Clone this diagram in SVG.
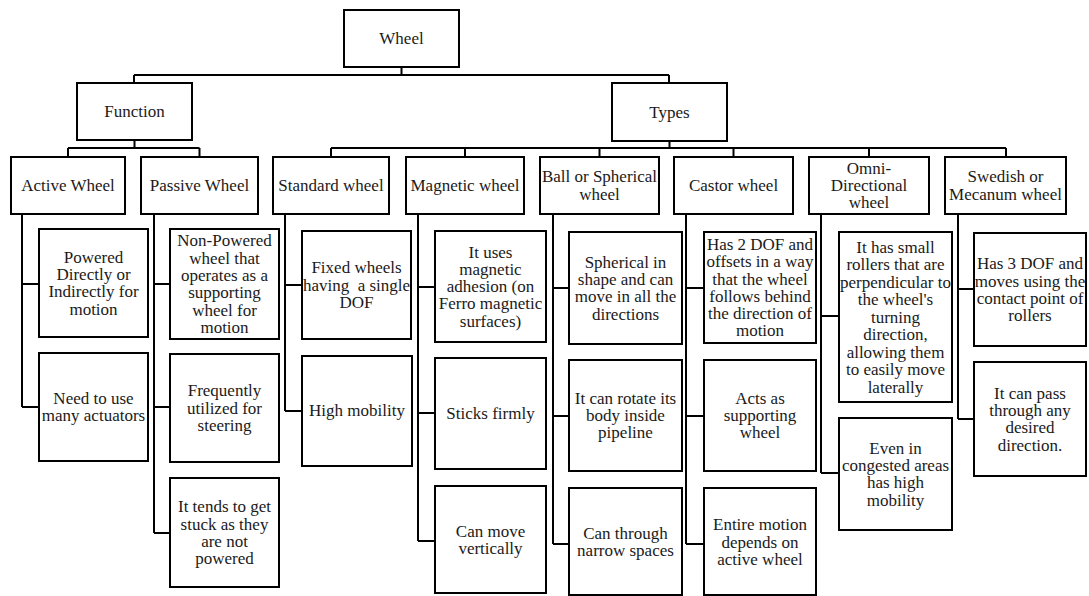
<svg xmlns="http://www.w3.org/2000/svg" width="1089" height="596" viewBox="0 0 1089 596">
<defs>
<rect id="unused" width="0" height="0"/>
</defs>
<rect x="0" y="0" width="1089" height="596" fill="#fff"/>
<g id="connectors" fill="none" stroke="#000" stroke-width="2">
<path d="M401.5 67V75M134 75H669M134 75V83M669 75V83"/>
<path d="M134.5 140V148M68 148H199.5M68 148V157M199.5 148V157"/>
<path d="M669.5 141V148M331 148H1006M331 148V157M465 148V157M599.5 148V157M733.5 148V157M869 148V157M1006 148V157"/>
<path d="M22 214V407M22 284H39M22 407H39"/>
<path d="M154 214V533M154 284H170M154 407H170M154 533H170"/>
<path d="M285 214V411M285 285H302M285 411H302"/>
<path d="M418 214V541M418 287H435M418 413H435M418 541H435"/>
<path d="M553 214V544M553 288H569M553 416H569M553 544H569"/>
<path d="M686 214V544M686 288H704M686 416H704M686 544H704"/>
<path d="M821 214V473M821 316H839M821 473H839"/>
<path d="M958 214V419M958 289H974M958 419H974"/>
</g>
<g id="nodes" fill="#fff" stroke="#000" stroke-width="2">
<g id="wheel"><rect x="344" y="10" width="115" height="57"/><text stroke="none" fill="#1a1a1a" font-family="Liberation Serif" font-size="17" text-anchor="middle" x="401.5" y="44">Wheel</text></g>
<g id="function"><rect x="77" y="83" width="115" height="57"/><text stroke="none" fill="#1a1a1a" font-family="Liberation Serif" font-size="17" text-anchor="middle" x="134.5" y="117">Function</text></g>
<g id="types"><rect x="612" y="83" width="115" height="58"/><text stroke="none" fill="#1a1a1a" font-family="Liberation Serif" font-size="17" text-anchor="middle" x="669.5" y="117.5">Types</text></g>

<g id="active"><rect x="11" y="157" width="114" height="57"/><text stroke="none" fill="#1a1a1a" font-family="Liberation Serif" font-size="17" text-anchor="middle" x="68" y="191">Active Wheel</text></g>
<g id="passive"><rect x="141" y="157" width="117" height="57"/><text stroke="none" fill="#1a1a1a" font-family="Liberation Serif" font-size="17" text-anchor="middle" x="199.5" y="191">Passive Wheel</text></g>
<g id="standard"><rect x="273" y="157" width="116" height="57"/><text stroke="none" fill="#1a1a1a" font-family="Liberation Serif" font-size="17" text-anchor="middle" x="331" y="191">Standard wheel</text></g>
<g id="magnetic"><rect x="406" y="157" width="118" height="57"/><text stroke="none" fill="#1a1a1a" font-family="Liberation Serif" font-size="17" text-anchor="middle" x="465" y="191">Magnetic wheel</text></g>
<g id="ball"><rect x="540" y="157" width="119" height="57"/><text stroke="none" fill="#1a1a1a" font-family="Liberation Serif" font-size="17" text-anchor="middle" x="599.5" y="182.4">Ball or Spherical<tspan x="599.5" dy="17.3">wheel</tspan></text></g>
<g id="castor"><rect x="674" y="157" width="119" height="57"/><text stroke="none" fill="#1a1a1a" font-family="Liberation Serif" font-size="17" text-anchor="middle" x="733.5" y="191">Castor wheel</text></g>
<g id="omni"><rect x="809" y="157" width="120" height="57"/><text stroke="none" fill="#1a1a1a" font-family="Liberation Serif" font-size="17" text-anchor="middle" x="869" y="173.7">Omni-<tspan x="869" dy="17.3">Directional</tspan><tspan x="869" dy="17.3">wheel</tspan></text></g>
<g id="swedish"><rect x="945" y="157" width="121" height="57"/><text stroke="none" fill="#1a1a1a" font-family="Liberation Serif" font-size="17" text-anchor="middle" x="1005.5" y="182.4">Swedish or<tspan x="1005.5" dy="17.3">Mecanum wheel</tspan></text></g>

<g id="powered"><rect x="39" y="229" width="109" height="108"/><text stroke="none" fill="#1a1a1a" font-family="Liberation Serif" font-size="17" text-anchor="middle" x="93.5" y="262.7">Powered<tspan x="93.5" dy="17.3">Directly or</tspan><tspan x="93.5" dy="17.3">Indirectly for</tspan><tspan x="93.5" dy="17.3">motion</tspan></text></g>
<g id="actuators"><rect x="39" y="353" width="109" height="108"/><text stroke="none" fill="#1a1a1a" font-family="Liberation Serif" font-size="17" text-anchor="middle" x="93.5" y="404">Need to use<tspan x="93.5" dy="17.3">many actuators</tspan></text></g>

<g id="nonpowered"><rect x="170" y="229" width="109" height="110"/><text stroke="none" fill="#1a1a1a" font-family="Liberation Serif" font-size="17" text-anchor="middle" x="224.5" y="246.4">Non-Powered<tspan x="224.5" dy="17.3">wheel that</tspan><tspan x="224.5" dy="17.3">operates as a</tspan><tspan x="224.5" dy="17.3">supporting</tspan><tspan x="224.5" dy="17.3">wheel for</tspan><tspan x="224.5" dy="17.3">motion</tspan></text></g>
<g id="steering"><rect x="170" y="354" width="109" height="108"/><text stroke="none" fill="#1a1a1a" font-family="Liberation Serif" font-size="17" text-anchor="middle" x="224.5" y="396.3">Frequently<tspan x="224.5" dy="17.3">utilized for</tspan><tspan x="224.5" dy="17.3">steering</tspan></text></g>
<g id="stuck"><rect x="170" y="478" width="109" height="109"/><text stroke="none" fill="#1a1a1a" font-family="Liberation Serif" font-size="17" text-anchor="middle" x="224.5" y="512.2">It tends to get<tspan x="224.5" dy="17.3">stuck as they</tspan><tspan x="224.5" dy="17.3">are not</tspan><tspan x="224.5" dy="17.3">powered</tspan></text></g>

<g id="fixed"><rect x="302" y="231" width="109" height="108"/><text stroke="none" fill="#1a1a1a" font-family="Liberation Serif" font-size="17" text-anchor="middle" x="356.5" y="273.3">Fixed wheels<tspan x="356.5" dy="17.3" xml:space="preserve">having  a single</tspan><tspan x="356.5" dy="17.3">DOF</tspan></text></g>
<g id="highmobility"><rect x="302" y="356" width="110" height="110"/><text stroke="none" fill="#1a1a1a" font-family="Liberation Serif" font-size="17" text-anchor="middle" x="357" y="416">High mobility</text></g>

<g id="adhesion"><rect x="435" y="231" width="111" height="111"/><text stroke="none" fill="#1a1a1a" font-family="Liberation Serif" font-size="17" text-anchor="middle" x="490.5" y="257.5">It uses<tspan x="490.5" dy="17.3">magnetic</tspan><tspan x="490.5" dy="17.3">adhesion (on</tspan><tspan x="490.5" dy="17.3">Ferro magnetic</tspan><tspan x="490.5" dy="17.3">surfaces)</tspan></text></g>
<g id="sticks"><rect x="435" y="358" width="111" height="111"/><text stroke="none" fill="#1a1a1a" font-family="Liberation Serif" font-size="17" text-anchor="middle" x="490.5" y="419">Sticks firmly</text></g>
<g id="vertically"><rect x="435" y="486" width="111" height="107"/><text stroke="none" fill="#1a1a1a" font-family="Liberation Serif" font-size="17" text-anchor="middle" x="490.5" y="536.5">Can move<tspan x="490.5" dy="17.3">vertically</tspan></text></g>

<g id="spherical"><rect x="569" y="232" width="113" height="112"/><text stroke="none" fill="#1a1a1a" font-family="Liberation Serif" font-size="17" text-anchor="middle" x="625.5" y="267.7">Spherical in<tspan x="625.5" dy="17.3">shape and can</tspan><tspan x="625.5" dy="17.3">move in all the</tspan><tspan x="625.5" dy="17.3">directions</tspan></text></g>
<g id="rotate"><rect x="569" y="360" width="113" height="111"/><text stroke="none" fill="#1a1a1a" font-family="Liberation Serif" font-size="17" text-anchor="middle" x="625.5" y="403.8">It can rotate its<tspan x="625.5" dy="17.3">body inside</tspan><tspan x="625.5" dy="17.3">pipeline</tspan></text></g>
<g id="narrow"><rect x="569" y="488" width="113" height="107"/><text stroke="none" fill="#1a1a1a" font-family="Liberation Serif" font-size="17" text-anchor="middle" x="625.5" y="539">Can through<tspan x="625.5" dy="17.3">narrow spaces</tspan></text></g>

<g id="castor-dof"><rect x="704" y="232" width="112" height="111"/><text stroke="none" fill="#1a1a1a" font-family="Liberation Serif" font-size="17" text-anchor="middle" x="760" y="249.9">Has 2 DOF and<tspan x="760" dy="17.3">offsets in a way</tspan><tspan x="760" dy="17.3">that the wheel</tspan><tspan x="760" dy="17.3">follows behind</tspan><tspan x="760" dy="17.3">the direction of</tspan><tspan x="760" dy="17.3">motion</tspan></text></g>
<g id="supporting"><rect x="704" y="360" width="112" height="111"/><text stroke="none" fill="#1a1a1a" font-family="Liberation Serif" font-size="17" text-anchor="middle" x="760" y="403.8">Acts as<tspan x="760" dy="17.3">supporting</tspan><tspan x="760" dy="17.3">wheel</tspan></text></g>
<g id="entire"><rect x="704" y="488" width="112" height="107"/><text stroke="none" fill="#1a1a1a" font-family="Liberation Serif" font-size="17" text-anchor="middle" x="760" y="530.3">Entire motion<tspan x="760" dy="17.3">depends on</tspan><tspan x="760" dy="17.3">active wheel</tspan></text></g>

<g id="rollers"><rect x="839" y="232" width="113" height="170"/><text stroke="none" fill="#1a1a1a" font-family="Liberation Serif" font-size="17" text-anchor="middle" x="895.5" y="252.6">It has small<tspan x="895.5" dy="17.5">rollers that are</tspan><tspan x="895.5" dy="17.5">perpendicular to</tspan><tspan x="895.5" dy="17.5">the wheel's</tspan><tspan x="895.5" dy="17.5">turning</tspan><tspan x="895.5" dy="17.5">direction,</tspan><tspan x="895.5" dy="17.5">allowing them</tspan><tspan x="895.5" dy="17.5">to easily move</tspan><tspan x="895.5" dy="17.5">laterally</tspan></text></g>
<g id="congested"><rect x="839" y="418" width="113" height="112"/><text stroke="none" fill="#1a1a1a" font-family="Liberation Serif" font-size="17" text-anchor="middle" x="895.5" y="453.7">Even in<tspan x="895.5" dy="17.3">congested areas</tspan><tspan x="895.5" dy="17.3">has high</tspan><tspan x="895.5" dy="17.3">mobility</tspan></text></g>

<g id="swedish-dof"><rect x="974" y="233" width="112" height="113"/><text stroke="none" fill="#1a1a1a" font-family="Liberation Serif" font-size="17" text-anchor="middle" x="1030" y="269.2">Has 3 DOF and<tspan x="1030" dy="17.3">moves using the</tspan><tspan x="1030" dy="17.3">contact point of</tspan><tspan x="1030" dy="17.3">rollers</tspan></text></g>
<g id="pass"><rect x="974" y="362" width="112" height="114"/><text stroke="none" fill="#1a1a1a" font-family="Liberation Serif" font-size="17" text-anchor="middle" x="1030" y="398.7">It can pass<tspan x="1030" dy="17.3">through any</tspan><tspan x="1030" dy="17.3">desired</tspan><tspan x="1030" dy="17.3">direction.</tspan></text></g>
</g>
</svg>
